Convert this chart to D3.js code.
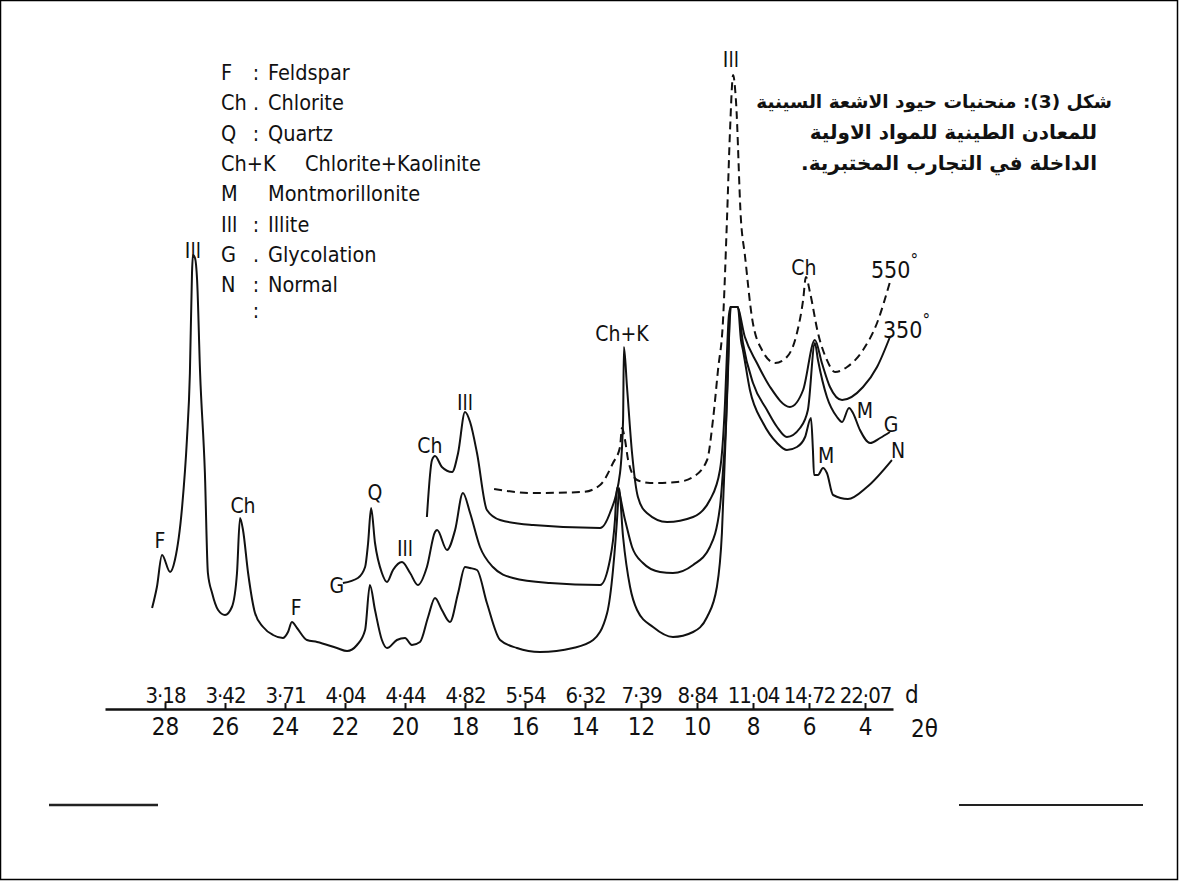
<!DOCTYPE html>
<html>
<head>
<meta charset="utf-8">
<script src="https://cdn.jsdelivr.net/npm/d3@7"></script>
<style>
body { margin: 0; background: #fff; }
svg { display: block; }
.lbl { font-family: "DejaVu Sans Condensed", "DejaVu Sans", sans-serif; font-stretch: condensed; fill: #111; }
</style>
</head>
<body>
<div id="chart"></div>
<script>

// 2 theta ticks and matching d spacings
var thetaTicks = [28, 26, 24, 22, 20, 18, 16, 14, 12, 10, 8, 6, 4];
var dLabels = ["3·18", "3·42", "3·71", "4·04", "4·44", "4·82", "5·54", "6·32", "7·39", "8·84", "11·04", "14·72", "22·07"];

// curves: [2theta, intensity]
var normalData = [
[28.43,72],[28.27,93],[28.10,125],[27.83,108],[27.67,120],[27.43,173],[27.27,240],[27.17,307],[27.10,407],[27.07,425],
[27.00,422],[26.93,400],[26.83,307],[26.67,207],[26.57,107],[26.43,87],[26.23,70],[26.00,65],[25.77,73],[25.60,107],
[25.50,162],[25.40,150],[25.23,107],[25.00,67],[24.73,53],[24.40,45],[24.07,42],[23.90,48],[23.77,58],[23.60,52],
[23.27,40],[22.93,38],[22.27,32],[21.93,29],[21.60,35],[21.33,50],[21.17,95],[21.00,70],[20.77,40],[20.60,32],
[20.27,40],[20.00,42],[19.77,35],[19.50,38],[19.23,63],[19.00,82],[18.77,70],[18.50,58],[18.23,87],[18.00,113],
[17.83,112],[17.60,110],[17.27,77],[16.83,40],[16.27,32],[15.50,28],[14.40,32],[13.71,40],[13.21,67],[13.00,110],
[12.82,177],[12.79,192],[12.64,143],[12.39,93],[12.14,70],[11.57,53],[10.86,43],[10.14,48],[9.64,63],[9.29,93],
[9.11,147],[9.00,227],[8.89,310],[8.82,373],[8.54,373],[8.43,340],[8.36,330],[8.11,290],[7.64,257],[7.14,237],
[6.79,230],[6.43,233],[6.14,243],[5.93,262],[5.86,230],[5.82,205],[5.68,205],[5.50,212],[5.36,207],[5.14,185],
[4.61,181],[3.93,193],[3.04,220]
];

var glycolData = [
[22.07,97],[21.57,102],[21.33,113],[21.23,137],[21.13,172],[21.00,137],[20.77,107],[20.60,98],[20.40,110],[20.10,118],
[19.83,107],[19.57,95],[19.27,113],[19.00,148],[18.93,150],[18.60,130],[18.33,150],[18.07,187],[17.83,167],[17.50,133],
[17.07,113],[16.40,102],[15.17,97],[13.46,95],[13.11,120],[12.93,160],[12.86,192],[12.57,160],[12.32,133],[11.93,117],
[11.32,108],[10.86,107],[10.14,115],[9.54,133],[9.18,173],[9.07,210],[8.96,260],[8.86,340],[8.79,373],[8.54,373],
[8.36,337],[8.00,297],[7.50,270],[7.14,253],[6.79,243],[6.32,252],[6.04,270],[5.79,337],[5.68,320],[5.36,283],
[5.00,263],[4.82,258],[4.57,272],[4.43,267],[4.18,250],[3.82,237],[3.46,242],[3.11,248]
];

var heat350Data = [
[19.27,163],[19.10,220],[19.00,224],[18.77,213],[18.43,208],[18.23,227],[18.00,268],[17.83,258],[17.60,227],[17.27,170],
[16.83,160],[15.73,155],[13.46,152],[13.11,167],[12.75,207],[12.64,260],[12.61,333],[12.50,293],[12.32,227],[12.11,183],
[11.79,167],[11.07,158],[10.14,163],[9.54,180],[9.18,210],[9.00,277],[8.93,327],[8.86,365],[8.79,373],[8.57,373],
[8.29,343],[7.86,317],[7.39,293],[6.68,273],[6.21,290],[5.79,340],[5.54,317],[5.25,293],[4.82,280],[4.07,293],
[3.57,313],[3.11,343]
];

var heat550Data = [
[17.03,191],[15.73,187],[14.07,188],[13.46,195],[13.00,217],[12.75,233],[12.68,252],[12.57,240],[12.46,220],[12.14,200],
[11.68,197],[10.71,198],[10.14,203],[9.64,220],[9.43,260],[9.25,310],[9.07,360],[8.93,460],[8.82,550],[8.71,605],
[8.61,580],[8.43,460],[8.29,425],[8.04,363],[7.68,330],[7.21,317],[6.79,323],[6.43,347],[6.21,380],[6.11,403],
[5.96,387],[5.68,347],[5.36,320],[5.07,308],[4.64,313],[4.07,330],[3.57,357],[3.11,398]
];

// peak labels: text, 2theta, intensity, anchor
var peakLabels = [
["F", 28.17, 132, "middle"], ["Ill", 27.07, 422, "middle"], ["Ch", 25.40, 167, "middle"],
["F", 23.63, 65, "middle"], ["Q", 21.00, 180, "middle"], ["G", 22.27, 87, "middle"],
["Ill", 20.00, 124, "middle"], ["Ch", 19.17, 227, "middle"], ["Ill", 18.00, 270, "middle"],
["Ch+K", 12.68, 339, "middle"], ["Ill", 8.79, 613, "middle"], ["Ch", 6.18, 405, "middle"],
["M", 4.00, 262, "middle"], ["G", 3.07, 248, "middle"], ["M", 5.39, 217, "middle"], ["N", 2.82, 222, "middle"]
];
var tempLabels = [["550", 3.79, 402], ["350", 3.36, 342]];

var legendKeys = ["F", "Ch", "Q", "Ch+K", "M", "Ill", "G", "N"];
var legendSeps = [":", ".", ":", "", "", ":", ".", ":"];
var legendNames = ["Feldspar", "Chlorite", "Quartz", "Chlorite+Kaolinite", "Montmorillonite", "Illite", "Glycolation", "Normal"];

var titleLines = ["شكل (3): منحنيات حيود الاشعة السينية", "للمعادن الطينية للمواد الاولية", "الداخلة في التجارب المختبرية."];

var W = 1179, H = 881;

var svg = d3.select("#chart").append("svg")
.attr("width", W)
.attr("height", H)

svg.append("rect")
.attr("x", 0.5).attr("y", 0.5)
.attr("width", W - 2).attr("height", H - 2)
.style("fill", "none").style("stroke", "#000").style("stroke-width", 1.5)

var x = d3.scaleLinear().domain([30, 14, 3]).range([105, 585, 893])
var y = d3.scaleLinear().domain([0, 600]).range([680, 80])

var line = d3.line()
.x(function(d){ return x(d[0]); })
.y(function(d){ return y(d[1]); })
.curve(d3.curveMonotoneX)

var curves = [
{data: normalData, dash: null},
{data: glycolData, dash: null},
{data: heat350Data, dash: null},
{data: heat550Data, dash: "8,5"}
]

svg.append("g").selectAll("path")
.data(curves)
.enter()
.append("path")
.attr("d", function(d){ return line(d.data); })
.style("fill", "none")
.style("stroke", "#111")
.style("stroke-width", 2)
.style("stroke-linejoin", "round")
.style("stroke-dasharray", function(d){ return d.dash; })

// axes
var axisY = 709;
var bottomAxis = d3.axisBottom(x).tickValues(thetaTicks).tickSizeInner(-6).tickSizeOuter(0).tickPadding(9)
var gB = svg.append("g").attr("transform", "translate(0," + axisY + ")").call(bottomAxis)
gB.select(".domain").style("stroke", "#111").style("stroke-width", 2.5)
gB.selectAll(".tick line").style("stroke", "#111").style("stroke-width", 2)
gB.selectAll(".tick text").attr("class", "lbl").style("font-size", "24px")

var topAxis = d3.axisTop(x).tickValues(thetaTicks).tickSize(0).tickPadding(6)
.tickFormat(function(d, i){ return dLabels[i]; })
var gT = svg.append("g").attr("transform", "translate(0," + axisY + ")").call(topAxis)
gT.select(".domain").remove()
gT.selectAll(".tick text").attr("class", "lbl").style("font-size", "22px").style("letter-spacing", "-1px")

svg.append("text").attr("class", "lbl").attr("x", 905).attr("y", 703).style("font-size", "24px").text("d")
svg.append("text").attr("class", "lbl").attr("x", 911).attr("y", 737).style("font-size", "24px").text("2θ")

// peak labels
svg.append("g").selectAll("text")
.data(peakLabels)
.enter()
.append("text")
.attr("class", "lbl")
.attr("x", function(d){ return x(d[1]); })
.attr("y", function(d){ return y(d[2]); })
.attr("text-anchor", function(d){ return d[3]; })
.style("font-size", "21px")
.text(function(d){ return d[0]; })

var tl = svg.append("g").selectAll("text")
.data(tempLabels)
.enter()
.append("text")
.attr("class", "lbl")
.attr("x", function(d){ return x(d[1]); })
.attr("y", function(d){ return y(d[2]); })
.style("font-size", "23px")
tl.append("tspan").text(function(d){ return d[0]; })
tl.append("tspan").attr("dy", -12).style("font-size", "17px").text("°")

// legend
var legend = svg.append("g").attr("class", "legend")
for (var i = 0; i < legendKeys.length; i++) {
var ly = 80 + i * 30.3;
legend.append("text").attr("class", "lbl").attr("x", 221).attr("y", ly).style("font-size", "21.5px").text(legendKeys[i])
legend.append("text").attr("class", "lbl").attr("x", 256).attr("y", ly).attr("text-anchor", "middle").style("font-size", "21px").text(legendSeps[i])
legend.append("text").attr("class", "lbl").attr("x", legendKeys[i] == "Ch+K" ? 305 : 268).attr("y", ly).style("font-size", "21.5px").text(legendNames[i])
}
legend.append("text").attr("class", "lbl").attr("x", 256).attr("y", 318).attr("text-anchor", "middle").style("font-size", "21px").text(":")

// arabic caption
svg.append("g").selectAll("text")
.data(titleLines)
.enter()
.append("text")
.attr("x", function(d, i){ return i == 0 ? 1112 : 1097; })
.attr("y", function(d, i){ return 108 + i * 31; })
.attr("direction", "rtl")
.attr("text-anchor", "start")
.style("font-family", "'DejaVu Sans', sans-serif")
.style("font-weight", "bold")
.style("font-size", function(d, i){ return i == 0 ? "18.5px" : "20px"; })
.style("fill", "#111")
.text(function(d){ return d; })

// short rules at bottom
svg.append("line").attr("x1", 49).attr("x2", 158).attr("y1", 805).attr("y2", 805).style("stroke", "#222").style("stroke-width", 2.5)
svg.append("line").attr("x1", 959).attr("x2", 1143).attr("y1", 805).attr("y2", 805).style("stroke", "#222").style("stroke-width", 2)

</script>
</body>
</html>
